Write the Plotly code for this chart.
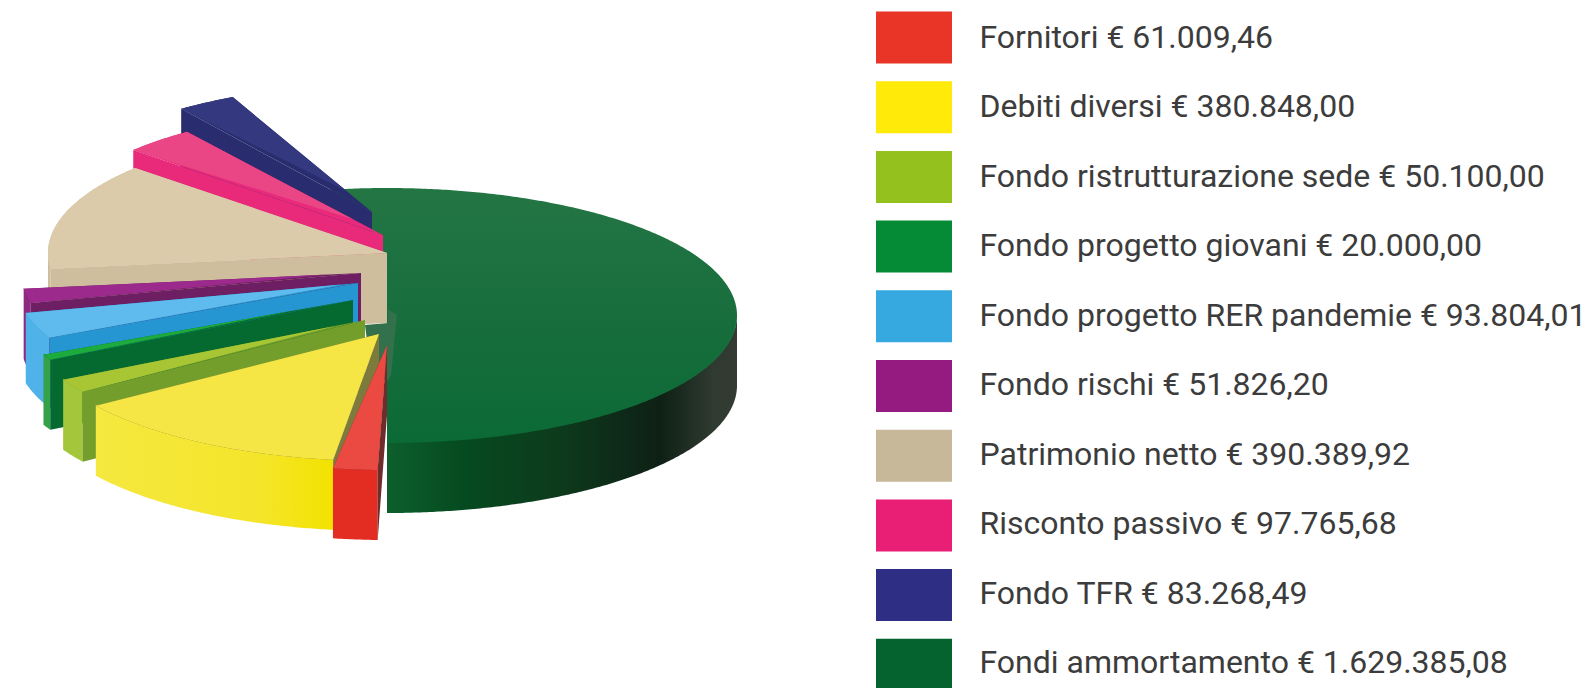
import numpy as np
import plotly.graph_objects as go

# ---- data -------------------------------------------------------------
labels = ["Fornitori € 61.009,46", "Debiti diversi € 380.848,00",
          "Fondo ristrutturazione sede € 50.100,00", "Fondo progetto giovani € 20.000,00",
          "Fondo progetto RER pandemie € 93.804,01", "Fondo rischi € 51.826,20",
          "Patrimonio netto € 390.389,92", "Risconto passivo € 97.765,68",
          "Fondo TFR € 83.268,49", "Fondi ammortamento € 1.629.385,08"]
values = [61009.46, 380848.00, 50100.00, 20000.00, 93804.01,
          51826.20, 390389.92, 97765.68, 83268.49, 1629385.08]
swatch_colors = ["#e83528", "#ffea0a", "#95c11f", "#058a35", "#36a9e1",
                 "#951b81", "#c8b89a", "#e91e75", "#2e2e85", "#05632f"]

# ---- pie styling: exploded centre of each slice, radius, small turn ------
hub_x = [387, 379, 365, 353, 358, 361, 387, 383, 372, 387]
hub_y = [345, 334, 320, 300, 283, 273, 253, 235, 212, 315.5]
radius_x = [335, 343, 342, 343, 342, 340, 339, 336, 327, 350]
radius_y = [125, 127, 127, 127, 127, 127, 127, 127, 127, 127.5]
turn = [1.6, 0, 0, 0, 0, 0, 0, 0, 0, 0]
tip = [1, 1, 0.9, 0.8, 0.95, 0.9, 1, 0.85, 0.82, 1]
top_colors = ["#ea4a42", "#f5e545", "#a8c634", "#1cab3c", "#5fbbed",
              "#9c2a8c", "#dccbab", "#ea4585", "#33387f", None]
side_colors = ["#e32d23", "#f4e62e", "#a3c63a", "#35a24a", "#4fb2e8",
               "#8c2a80", "#cfbe9e", "#e92a7b", "#2a2c70", "#0b5a28"]
cut_colors = ["#6e2c2c", "#7d7a3c", "#739e2b", "#046a2f", "#2596d1",
              "#6e1e62", "#cfbe9e", "#e92a7b", "#2a2c70", "#0b5a28"]
THICK = 70
draw_order = [9, 8, 7, 6, 5, 4, 3, 2, 1, 0]
# the shaded inner corner of the big slice, seen between the pulled-out slices
corner_x = [365, 388, 388, 397, 391, 388, 372]
corner_y = [325, 323, 309, 315, 375, 380, 380]
corner_color = "#33704c"

# swept angles clockwise from 12 o'clock, the first slice starts at 6 o'clock
sweep = np.array(values) / sum(values) * 360.0
start = 180 + np.concatenate(([0], np.cumsum(sweep)[:-1]))
end = start + sweep


def arc(i, a, b):
    t = np.radians(np.linspace(a, b, max(2, int(abs(b - a) * 2) + 2)) + turn[i])
    return hub_x[i] + radius_x[i] * np.sin(t), hub_y[i] - radius_y[i] * np.cos(t)


def poly(xs, ys, color=None, name="", grad=None):
    kw = dict(fillgradient=grad) if grad else dict(fillcolor=color)
    return go.Scatter(x=list(xs), y=list(ys), mode="none", fill="toself",
                      name=name, showlegend=False, hoverinfo="skip", **kw)


fig = go.Figure()
for i in draw_order:
    a, b = start[i], end[i]
    if i == 9:  # big slice: only the front rim shows, with a metallic sweep
        ax, ay = arc(i, 90, 180)
        fig.add_trace(poly(np.r_[ax, ax[::-1]], np.r_[ay - 1, ay[::-1] + THICK], name=labels[i], grad=dict(
            type="horizontal",
            colorscale=[[0, "#0d5f2c"], [0.22, "#054a20"], [0.5, "#0d3a1c"],
                        [0.78, "#0e2015"], [0.93, "#2f3a30"], [1, "#333b33"]])))
        tx, ty = arc(i, 180 - sweep[i], 180)
        fig.add_trace(poly(np.r_[hub_x[i], tx], np.r_[hub_y[i], ty], name=labels[i], grad=dict(
            type="vertical",
            colorscale=[[0, "#0b6a36"], [0.5, "#186e3d"], [1, "#247544"]])))
        fig.add_trace(poly(corner_x, corner_y, corner_color, labels[i]))
        continue
    # outer wall, front half only
    if a < 270:
        wx, wy = arc(i, a, min(b, 270))
        grad = None
        if i == 1:
            grad = dict(type="horizontal", colorscale=[[0, "#f5e83f"], [0.7, "#f4e52a"], [1, "#f3e200"]])
        fig.add_trace(poly(np.r_[wx, wx[::-1]], np.r_[wy - 1, wy[::-1] + THICK],
                           side_colors[i], labels[i], grad))
    # radial cut face towards the viewer, plus the wedge under the lit top
    tx, ty = arc(i, a, b)
    fig.add_trace(poly([hub_x[i], tx[0], tx[0], hub_x[i]],
                       [hub_y[i], ty[0], ty[0] + THICK, hub_y[i] + THICK],
                       cut_colors[i], labels[i]))
    fig.add_trace(poly(np.r_[hub_x[i], tx], np.r_[hub_y[i], ty], cut_colors[i], labels[i]))
    # lit top face narrowing to a point on its far edge
    px = tx[-1] + tip[i] * (hub_x[i] - tx[-1])
    py = ty[-1] + tip[i] * (hub_y[i] - ty[-1])
    fig.add_trace(poly(np.r_[px, tx], np.r_[py, ty], top_colors[i], labels[i]))

# ---- legend -----------------------------------------------------------
rows = 37.5 + 69.7 * np.arange(len(labels))
text_rows = 40 + 69.45 * np.arange(len(labels))
fig.add_trace(go.Scatter(x=[979.5] * len(labels), y=text_rows, mode="text", text=labels,
                         textposition="middle right", showlegend=False, hoverinfo="skip",
                         textfont=dict(family="Roboto", size=32, color="#3c3c3c")))
shapes = [dict(type="rect", xref="x", yref="y", x0=876, x1=952, y0=r - 26, y1=r + 26,
               fillcolor=c, line_width=0, layer="above")
          for r, c in zip(rows, swatch_colors)]

fig.update_layout(width=1586, height=688, margin=dict(l=0, r=0, t=0, b=0),
                  paper_bgcolor="white", plot_bgcolor="white", shapes=shapes,
                  xaxis=dict(range=[0, 1586], visible=False, fixedrange=True),
                  yaxis=dict(range=[688, 0], visible=False, fixedrange=True))
fig.write_html("out.html", config={"displayModeBar": False},
               post_script="document.body.style.margin='0';document.documentElement.style.overflow='hidden';")
